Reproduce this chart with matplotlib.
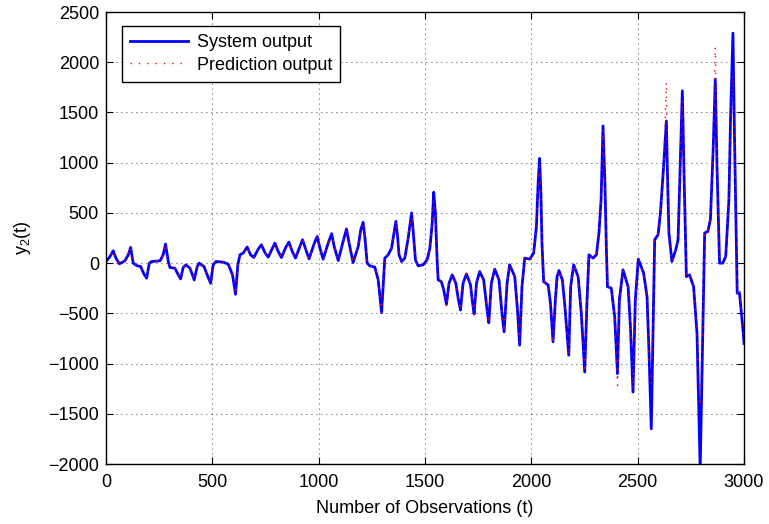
import matplotlib
matplotlib.use("Agg")
import matplotlib.pyplot as plt

plt.rcParams['font.family'] = ['Liberation Sans', 'DejaVu Sans']
plt.rcParams['mathtext.default'] = 'regular'

t = [0, 19, 34, 47, 63, 89, 105, 116, 128, 144, 163, 179, 191, 204, 215, 254, 269,
     280, 293, 301, 324, 340, 351, 363, 376, 395, 415, 429, 438, 461, 476, 492,
     504, 517, 551, 575, 595, 609, 620, 630, 645, 664, 680, 695, 716, 731, 747,
     763, 783, 794, 810, 825, 846, 860, 876, 891, 912, 924, 940, 955, 977, 993,
     1006, 1021, 1045, 1061, 1073, 1092, 1115, 1131, 1143, 1162, 1186, 1198, 1209,
     1217, 1228, 1241, 1264, 1280, 1296, 1303, 1311, 1327, 1343, 1353, 1363, 1371,
     1378, 1390, 1405, 1421, 1437, 1444, 1455, 1468, 1491, 1510, 1523, 1534, 1541,
     1549, 1557, 1562, 1577, 1588, 1601, 1613, 1628, 1645, 1656, 1667, 1679, 1695,
     1714, 1723, 1731, 1742, 1757, 1776, 1792, 1800, 1812, 1828, 1848, 1862, 1872,
     1886, 1898, 1922, 1935, 1945, 1956, 1969, 1992, 2011, 2024, 2032, 2039, 2045,
     2050, 2058, 2079, 2090, 2102, 2113, 2121, 2130, 2146, 2158, 2176, 2185, 2199,
     2220, 2235, 2251, 2262, 2271, 2290, 2306, 2318, 2328, 2337, 2346, 2353, 2358,
     2376, 2392, 2405, 2414, 2431, 2455, 2466, 2478, 2489, 2503, 2528, 2544, 2553,
     2564, 2572, 2580, 2596, 2607, 2622, 2635, 2641, 2647, 2661, 2679, 2690, 2700,
     2710, 2719, 2729, 2744, 2763, 2779, 2794, 2806, 2815, 2830, 2842, 2855, 2865,
     2873, 2885, 2900, 2914, 2929, 2937, 2948, 2955, 2968, 2979, 2998, 3000]

# system output y2(t)
system = [16, 66, 123, 50, -7, 23, 83, 156, 0, -24, -34, -110, -150, 0, 16, 23, 83,
          190, 16, -44, -50, -117, -157, -44, -17, -50, -167, -34, 0, -34, -117, -200,
          -17, 16, 10, -10, -117, -310, -17, 83, 100, 160, 83, 56, 140, 183, 106,
          60, 150, 200, 116, 56, 160, 210, 116, 50, 166, 233, 133, 43, 183, 266,
          150, 40, 200, 293, 166, 26, 216, 340, 200, 6, 166, 333, 406,
          266, 0, -27, -40, -167, -494, -234, 50, 83, 150, 283, 416, 266,
          83, 16, 50, 250, 500, 333, 33, -27, -17, 33, 150, 400, 706,
          500, 33, -167, -184, -267, -410, -200, -117, -200, -350, -467, -200, -107,
          -217, -384, -507, -200, -84, -167, -467, -594, -200, -60, -167, -500, -684,
          -200, -17, -134, -467, -817, -234, 50, 40, 100, 366, 800, 1043, 700,
          200, -184, -217, -400, -784, -367, -134, -74, -167, -434, -917, -234, -17,
          -134, -500, -1084, -367, 83, 50, 83, 300, 633, 1366, 800, 133, -234,
          -250, -534, -1100, -367, -67, -234, -634, -1284, -367, 40, -100, -334, -867,
          -1650, -700, 233, 283, 500, 966, 1416, 800, 300, 17, 133, 233, 966,
          1716, 800, -134, -117, -234, -700, -2050, -700, 300, 316, 433, 1133, 1833,
          966, 0, 0, 66, 633, 1466, 2290, 1300, -300, -300, -734, -800]

# prediction output: same as system except where the red dots leave the blue line
pred_diff = {1541: 620, 1601: -440, 1945: -790, 2039: 960, 2102: -800, 2337: 1330,
             2405: -1220, 2478: -1250, 2553: -1000, 2564: -1200, 2572: -600,
             2635: 1800, 2710: 1620, 2794: -1420, 2806: -600, 2865: 2150,
             2948: 1870, 2979: -250}
prediction = [pred_diff.get(ti, v) for ti, v in zip(t, system)]

fig = plt.figure(figsize=(7.69, 5.24), dpi=100)
ax = fig.add_axes([0.1378, 0.1145, 0.8297, 0.8625])

ax.plot(t, system, color='#0000ff', lw=2.0, label='System output')
ax.plot(t, prediction, color='#ff0000', lw=1.0, linestyle=(0, (1, 5)),
        label='Prediction output')

ax.set_xlim(0, 3000)
ax.set_ylim(-2000, 2500)
ax.set_xticks(range(0, 3001, 500))
ax.set_yticks(range(-2000, 2501, 500))
ax.grid(True, color='black', linestyle=(0, (1, 5)), linewidth=0.6)
ax.tick_params(direction='in', top=True, right=True, length=5, labelsize=13)
ax.tick_params(axis='x', pad=7)
ax.tick_params(axis='y', pad=5)
for s in ax.spines.values():
    s.set_linewidth(1.0)

ax.set_xlabel('Number of Observations (t)', fontsize=13, labelpad=7)
ax.set_ylabel('y$_2$(t)', fontsize=13, labelpad=11)

leg = ax.legend(loc='upper left', fontsize=13, fancybox=False, framealpha=1,
                edgecolor='black', handlelength=3.2, borderpad=0.45,
                labelspacing=0.3, handletextpad=0.5, borderaxespad=0,
                bbox_to_anchor=(0.025, 0.969))
leg.get_frame().set_linewidth(1.0)

fig.savefig('out.png', dpi=100)
